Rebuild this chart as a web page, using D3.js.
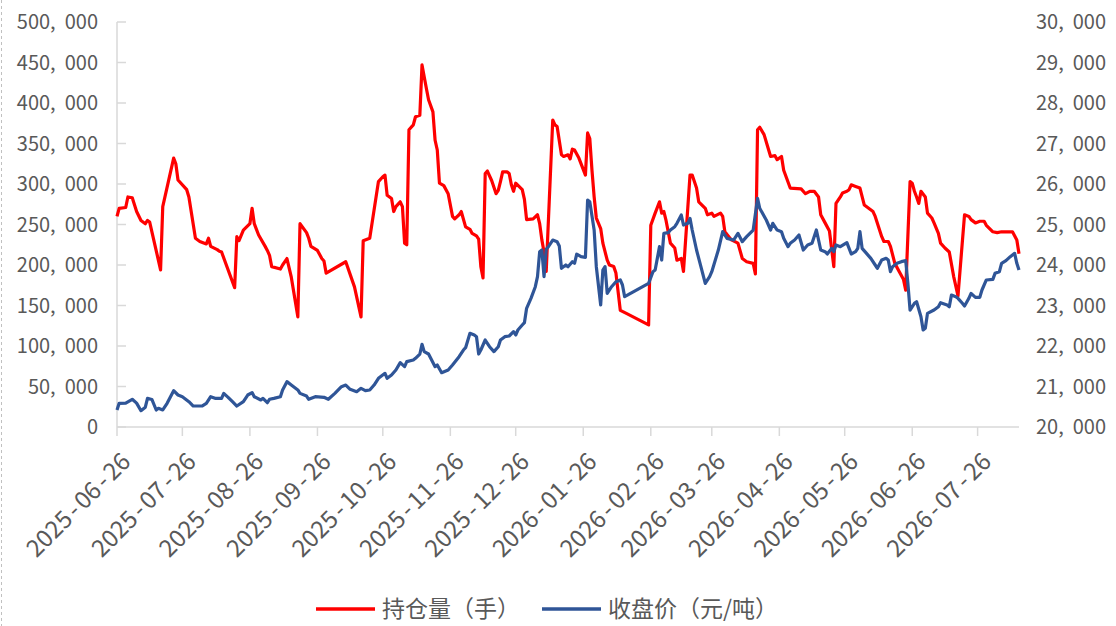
<!DOCTYPE html>
<html>
<head>
<meta charset="utf-8">
<script src="https://cdn.jsdelivr.net/npm/d3@7"></script>
<style>
	html, body { margin: 0; padding: 0; background: #fff; }
	svg { display: block; }
	text { font-family: "Noto Sans CJK SC", "Noto Sans", sans-serif; }
</style>
</head>
<body>
<svg id="chart" width="1116" height="626"></svg>
<script>
// series names (legend)
var seriesNames = ["持仓量（手）", "收盘价（元/吨）"];

// 持仓量 - open interest, left axis
var openInterest = [
	["2025-06-26",260000],["2025-06-27",270000],["2025-06-30",271000],["2025-07-01",284000],
	["2025-07-03",283000],["2025-07-05",266000],["2025-07-07",255000],["2025-07-09",251000],
	["2025-07-10",255000],["2025-07-11",253000],["2025-07-16",194000],["2025-07-17",272000],
	["2025-07-22",332000],["2025-07-23",325000],["2025-07-24",305000],["2025-07-28",293000],
	["2025-07-29",284000],["2025-08-01",233000],["2025-08-03",229000],["2025-08-06",226000],
	["2025-08-07",233000],["2025-08-08",223000],["2025-08-11",219000],["2025-08-12",217000],
	["2025-08-13",216000],["2025-08-19",172000],["2025-08-20",235000],["2025-08-21",230000],
	["2025-08-23",243000],["2025-08-26",251000],["2025-08-27",270000],["2025-08-28",251000],
	["2025-08-30",237000],["2025-09-02",223000],["2025-09-03",218000],["2025-09-04",212000],
	["2025-09-05",198000],["2025-09-09",195000],["2025-09-10",200000],["2025-09-12",208000],
	["2025-09-14",185000],["2025-09-17",136000],["2025-09-18",251000],["2025-09-21",240000],
	["2025-09-22",233000],["2025-09-23",223000],["2025-09-26",218000],["2025-09-28",208000],
	["2025-09-29",205000],["2025-09-30",190000],["2025-10-09",204000],["2025-10-13",173000],
	["2025-10-16",136000],["2025-10-17",230000],["2025-10-20",233000],["2025-10-24",303000],
	["2025-10-26",309000],["2025-10-27",311000],["2025-10-28",286000],["2025-10-30",282000],
	["2025-10-31",266000],["2025-11-01",272000],["2025-11-03",278000],["2025-11-04",272000],
	["2025-11-05",227000],["2025-11-06",225000],["2025-11-07",367000],["2025-11-09",373000],
	["2025-11-10",383000],["2025-11-12",385000],["2025-11-13",447000],["2025-11-15",418000],
	["2025-11-16",404000],["2025-11-18",389000],["2025-11-19",354000],["2025-11-20",342000],
	["2025-11-21",301000],["2025-11-23",298000],["2025-11-25",288000],["2025-11-27",260000],
	["2025-11-28",257000],["2025-11-30",262000],["2025-12-01",266000],["2025-12-03",247000],
	["2025-12-05",244000],["2025-12-06",239000],["2025-12-08",236000],["2025-12-09",232000],
	["2025-12-10",198000],["2025-12-11",184000],["2025-12-12",313000],["2025-12-13",316000],
	["2025-12-15",304000],["2025-12-17",288000],["2025-12-18",292000],["2025-12-19",303000],
	["2025-12-20",315000],["2025-12-22",315000],["2025-12-23",313000],["2025-12-24",299000],
	["2025-12-25",291000],["2025-12-26",301000],["2025-12-29",293000],["2025-12-30",281000],
	["2025-12-31",256000],["2026-01-03",257000],["2026-01-05",262000],["2026-01-06",251000],
	["2026-01-07",231000],["2026-01-08",216000],["2026-01-09",192000],["2026-01-12",379000],
	["2026-01-13",373000],["2026-01-14",371000],["2026-01-16",336000],["2026-01-17",334000],
	["2026-01-19",336000],["2026-01-20",331000],["2026-01-21",343000],["2026-01-22",342000],
	["2026-01-24",332000],["2026-01-27",311000],["2026-01-28",363000],["2026-01-29",356000],
	["2026-01-30",317000],["2026-01-31",284000],["2026-02-01",258000],["2026-02-03",245000],
	["2026-02-04",227000],["2026-02-06",206000],["2026-02-07",200000],["2026-02-09",198000],
	["2026-02-10",190000],["2026-02-12",144000],["2026-02-15",140000],["2026-02-25",126000],
	["2026-02-26",249000],["2026-02-28",264000],["2026-03-02",278000],["2026-03-03",264000],
	["2026-03-04",266000],["2026-03-05",255000],["2026-03-07",227000],["2026-03-09",221000],
	["2026-03-10",206000],["2026-03-12",208000],["2026-03-13",192000],["2026-03-16",311000],
	["2026-03-17",311000],["2026-03-19",295000],["2026-03-20",278000],["2026-03-23",270000],
	["2026-03-24",262000],["2026-03-26",264000],["2026-03-27",260000],["2026-03-30",264000],
	["2026-03-31",260000],["2026-04-01",241000],["2026-04-04",231000],["2026-04-07",227000],
	["2026-04-09",208000],["2026-04-11",204000],["2026-04-14",202000],["2026-04-15",189000],
	["2026-04-16",367000],["2026-04-17",370000],["2026-04-19",361000],["2026-04-21",343000],
	["2026-04-22",334000],["2026-04-24",335000],["2026-04-25",330000],["2026-04-26",332000],
	["2026-04-27",334000],["2026-04-28",317000],["2026-05-01",295000],["2026-05-06",294000],
	["2026-05-08",288000],["2026-05-10",291000],["2026-05-12",291000],["2026-05-14",284000],
	["2026-05-15",262000],["2026-05-17",252000],["2026-05-19",242000],["2026-05-21",198000],
	["2026-05-22",276000],["2026-05-24",284000],["2026-05-25",289000],["2026-05-27",291000],
	["2026-05-28",293000],["2026-05-29",299000],["2026-05-31",297000],["2026-06-02",295000],
	["2026-06-04",274000],["2026-06-06",270000],["2026-06-08",266000],["2026-06-09",260000],
	["2026-06-12",235000],["2026-06-13",229000],["2026-06-15",229000],["2026-06-16",223000],
	["2026-06-18",202000],["2026-06-20",192000],["2026-06-22",182000],["2026-06-23",169000],
	["2026-06-25",303000],["2026-06-26",301000],["2026-06-27",291000],["2026-06-28",284000],
	["2026-06-29",276000],["2026-06-30",291000],["2026-07-02",284000],["2026-07-03",264000],
	["2026-07-05",258000],["2026-07-06",252000],["2026-07-08",239000],["2026-07-09",227000],
	["2026-07-11",221000],["2026-07-13",216000],["2026-07-15",186000],["2026-07-17",162000],
	["2026-07-20",262000],["2026-07-22",260000],["2026-07-23",256000],["2026-07-25",252000],
	["2026-07-27",254000],["2026-07-29",254000],["2026-07-30",249000],["2026-08-02",241000],
	["2026-08-04",240000],["2026-08-06",241000],["2026-08-09",241000],["2026-08-11",241000],
	["2026-08-13",231000],["2026-08-14",214000]
];

// 收盘价 - close price, right axis
var closePrice = [
	["2025-06-26",20420],["2025-06-27",20585],["2025-06-30",20590],["2025-07-03",20684],
	["2025-07-05",20590],["2025-07-07",20403],["2025-07-09",20490],["2025-07-10",20707],
	["2025-07-12",20680],["2025-07-14",20420],["2025-07-15",20461],["2025-07-17",20420],
	["2025-07-19",20585],["2025-07-22",20897],["2025-07-24",20790],["2025-07-26",20748],
	["2025-07-29",20625],["2025-07-31",20518],["2025-08-04",20518],["2025-08-06",20585],
	["2025-08-08",20748],["2025-08-10",20707],["2025-08-13",20707],["2025-08-14",20830],
	["2025-08-16",20733],["2025-08-18",20625],["2025-08-20",20518],["2025-08-23",20625],
	["2025-08-25",20790],["2025-08-27",20850],["2025-08-28",20748],["2025-08-31",20667],
	["2025-09-01",20707],["2025-09-03",20600],["2025-09-04",20684],["2025-09-06",20707],
	["2025-09-09",20748],["2025-09-10",20914],["2025-09-12",21120],["2025-09-14",21037],
	["2025-09-17",20914],["2025-09-18",20830],["2025-09-21",20765],["2025-09-22",20684],
	["2025-09-25",20748],["2025-09-29",20733],["2025-10-01",20684],["2025-10-04",20831],
	["2025-10-07",20996],["2025-10-09",21035],["2025-10-11",20930],["2025-10-14",20872],
	["2025-10-16",20955],["2025-10-18",20897],["2025-10-20",20914],["2025-10-22",21037],
	["2025-10-24",21202],["2025-10-27",21325],["2025-10-28",21202],["2025-10-30",21284],
	["2025-11-01",21407],["2025-11-03",21588],["2025-11-05",21490],["2025-11-06",21613],
	["2025-11-09",21654],["2025-11-10",21696],["2025-11-12",21802],["2025-11-13",22042],
	["2025-11-14",21860],["2025-11-16",21802],["2025-11-17",21696],["2025-11-19",21490],
	["2025-11-20",21531],["2025-11-22",21341],["2025-11-25",21407],["2025-11-27",21531],
	["2025-11-30",21736],["2025-12-02",21901],["2025-12-03",21958],["2025-12-05",22313],
	["2025-12-07",22272],["2025-12-08",22230],["2025-12-09",21802],["2025-12-10",21901],
	["2025-12-12",22148],["2025-12-14",21983],["2025-12-16",21860],["2025-12-18",21983],
	["2025-12-19",22148],["2025-12-21",22230],["2025-12-23",22247],["2025-12-25",22354],
	["2025-12-26",22272],["2025-12-27",22395],["2025-12-29",22518],["2025-12-30",22576],
	["2025-12-31",22930],["2026-01-02",23177],["2026-01-04",23464],["2026-01-05",23711],
	["2026-01-06",24328],["2026-01-07",24370],["2026-01-08",23711],["2026-01-09",24387],
	["2026-01-10",24453],["2026-01-12",24617],["2026-01-14",24576],["2026-01-15",24470],
	["2026-01-16",23918],["2026-01-18",24000],["2026-01-19",23958],["2026-01-21",24082],
	["2026-01-22",24041],["2026-01-23",24267],["2026-01-25",24205],["2026-01-27",24190],
	["2026-01-28",25605],["2026-01-29",25564],["2026-01-31",24864],["2026-02-01",23958],
	["2026-02-03",23012],["2026-02-04",23876],["2026-02-05",23958],["2026-02-06",23300],
	["2026-02-08",23464],["2026-02-10",23588],["2026-02-12",23630],["2026-02-13",23506],
	["2026-02-14",23218],["2026-02-25",23547],["2026-02-27",23835],["2026-02-28",23876],
	["2026-03-01",24164],["2026-03-02",24453],["2026-03-03",24123],["2026-03-04",24782],
	["2026-03-06",24798],["2026-03-07",24864],["2026-03-09",24946],["2026-03-10",25029],
	["2026-03-12",25234],["2026-03-13",24987],["2026-03-15",25029],["2026-03-16",25152],
	["2026-03-17",24864],["2026-03-19",24370],["2026-03-21",23958],["2026-03-23",23547],
	["2026-03-25",23712],["2026-03-26",23835],["2026-03-29",24370],["2026-03-31",24823],
	["2026-04-02",24658],["2026-04-05",24617],["2026-04-07",24782],["2026-04-09",24576],
	["2026-04-11",24700],["2026-04-14",24864],["2026-04-16",25646],["2026-04-17",25399],
	["2026-04-20",25111],["2026-04-22",24864],["2026-04-23",25029],["2026-04-25",24864],
	["2026-04-27",24823],["2026-04-28",24658],["2026-04-30",24453],["2026-05-01",24535],
	["2026-05-03",24617],["2026-05-05",24741],["2026-05-07",24370],["2026-05-09",24494],
	["2026-05-11",24535],["2026-05-13",24864],["2026-05-15",24370],["2026-05-17",24329],
	["2026-05-18",24271],["2026-05-20",24411],["2026-05-21",24329],["2026-05-22",24494],
	["2026-05-24",24453],["2026-05-27",24552],["2026-05-29",24271],["2026-05-31",24329],
	["2026-06-01",24411],["2026-06-02",24823],["2026-06-03",24411],["2026-06-05",24288],
	["2026-06-07",24164],["2026-06-09",24000],["2026-06-10",23918],["2026-06-12",24123],
	["2026-06-14",24164],["2026-06-15",24123],["2026-06-16",23835],["2026-06-17",23958],
	["2026-06-19",24041],["2026-06-21",24082],["2026-06-23",24107],["2026-06-24",23547],
	["2026-06-25",22888],["2026-06-27",23053],["2026-06-28",23094],["2026-06-30",22723],
	["2026-07-01",22395],["2026-07-02",22437],["2026-07-03",22806],["2026-07-06",22888],
	["2026-07-08",22970],["2026-07-09",23069],["2026-07-12",23012],["2026-07-13",22970],
	["2026-07-14",23259],["2026-07-16",23218],["2026-07-17",23177],["2026-07-19",23054],
	["2026-07-20",22987],["2026-07-22",23177],["2026-07-23",23300],["2026-07-25",23201],
	["2026-07-27",23201],["2026-07-28",23383],["2026-07-30",23630],["2026-08-02",23646],
	["2026-08-03",23794],["2026-08-05",23835],["2026-08-06",24041],["2026-08-08",24107],
	["2026-08-10",24206],["2026-08-12",24288],["2026-08-13",24041],["2026-08-14",23876]
];

// axis ticks
var leftTicks = [0, 50000, 100000, 150000, 200000, 250000, 300000, 350000, 400000, 450000, 500000];
var rightTicks = [20000, 21000, 22000, 23000, 24000, 25000, 26000, 27000, 28000, 29000, 30000];
var xTickLabels = ["2025-06-26","2025-07-26","2025-08-26","2025-09-26","2025-10-26","2025-11-26",
	"2025-12-26","2026-01-26","2026-02-26","2026-03-26","2026-04-26","2026-05-26","2026-06-26","2026-07-26"];

var colors = ["#ff0000", "#2f5597"],
	axisColor = "#d9d9d9",
	labelColor = "#595959";

var margin = {left: 117, right: 97, top: 22, bottom: 199},
	width = 1116, height = 626;

var parse = d3.timeParse("%Y-%m-%d"),
	fmt = d3.format(",");

var svg = d3.select("#chart");

// dashed border on the far left (edge of the original chart box)
svg.append("line")
	.attr("x1", 1.5).attr("x2", 1.5)
	.attr("y1", 0).attr("y2", height)
	.attr("stroke", "#c0c0c0")
	.attr("stroke-dasharray", "3,3");

var xScale = d3.scaleTime()
	.domain([parse(openInterest[0][0]), parse(openInterest[openInterest.length - 1][0])])
	.range([margin.left, width - margin.right]);

var yLeft = d3.scaleLinear()
	.domain([0, 500000])
	.range([height - margin.bottom, margin.top]);

var yRight = d3.scaleLinear()
	.domain([20000, 30000])
	.range([height - margin.bottom, margin.top]);

// split label at the comma so the gap after it looks like the original (wide comma)
function commaLabel(sel, v) {
	var s = fmt(v), i = s.indexOf(",");
	if (i < 0) { sel.text(s); return; }
	sel.append("tspan").text(s.slice(0, i + 1));
	sel.append("tspan").attr("dx", 9).text(s.slice(i + 1));
}

// date label with a bit of room round the dashes
function dateLabel(sel, s) {
	var parts = s.split("-");
	parts.forEach(function(p, i) {
		if (i > 0) sel.append("tspan").attr("dx", 3).text("-");
		sel.append("tspan").attr("dx", i > 0 ? 3 : 0).text(p);
	});
}

//************ LEFT AXIS ************
var gl = svg.append("g").attr("class", "axis-left");
gl.append("line")
	.attr("x1", margin.left).attr("x2", margin.left)
	.attr("y1", yLeft(500000)).attr("y2", yLeft(0))
	.attr("stroke", axisColor).attr("stroke-width", 1.5);
gl.selectAll("line.tick").data(leftTicks).enter().append("line")
	.attr("class", "tick")
	.attr("x1", margin.left).attr("x2", margin.left + 9)
	.attr("y1", function(d) { return yLeft(d); })
	.attr("y2", function(d) { return yLeft(d); })
	.attr("stroke", axisColor).attr("stroke-width", 1.5);
gl.selectAll("text").data(leftTicks).enter().append("text")
	.attr("x", 98)
	.attr("y", function(d) { return yLeft(d); })
	.attr("dy", "0.36em")
	.attr("text-anchor", "end")
	.attr("font-size", 20)
	.attr("fill", labelColor)
	.each(function(d) { commaLabel(d3.select(this), d); });

//************ RIGHT AXIS (labels only) ************
var gr = svg.append("g").attr("class", "axis-right");
gr.selectAll("text").data(rightTicks).enter().append("text")
	.attr("x", 1036)
	.attr("y", function(d) { return yRight(d); })
	.attr("dy", "0.36em")
	.attr("text-anchor", "start")
	.attr("font-size", 20)
	.attr("fill", labelColor)
	.each(function(d) { commaLabel(d3.select(this), d); });

//************ X AXIS ************
var gx = svg.append("g").attr("class", "axis-x");
var baseY = yLeft(0);
gx.append("line")
	.attr("x1", margin.left).attr("x2", width - margin.right)
	.attr("y1", baseY).attr("y2", baseY)
	.attr("stroke", axisColor).attr("stroke-width", 1.5);
gx.selectAll("line.tick").data(xTickLabels).enter().append("line")
	.attr("class", "tick")
	.attr("x1", function(d) { return xScale(parse(d)); })
	.attr("x2", function(d) { return xScale(parse(d)); })
	.attr("y1", baseY).attr("y2", baseY + 9)
	.attr("stroke", axisColor).attr("stroke-width", 1.5);
gx.selectAll("text").data(xTickLabels).enter().append("text")
	.attr("transform", function(d) {
		return "translate(" + (xScale(parse(d)) + 15) + "," + (baseY + 36) + ") rotate(-45)";
	})
	.attr("text-anchor", "end")
	.attr("font-size", 24)
	.attr("fill", labelColor)
	.each(function(d) { dateLabel(d3.select(this), d); });

//************ LINES ************
var lineLeft = d3.line()
	.x(function(d) { return xScale(parse(d[0])); })
	.y(function(d) { return yLeft(d[1]); });
var lineRight = d3.line()
	.x(function(d) { return xScale(parse(d[0])); })
	.y(function(d) { return yRight(d[1]); });

svg.append("path")
	.datum(openInterest)
	.attr("d", lineLeft)
	.attr("fill", "none")
	.attr("stroke", colors[0])
	.attr("stroke-width", 3.2)
	.attr("stroke-linejoin", "round");

svg.append("path")
	.datum(closePrice)
	.attr("d", lineRight)
	.attr("fill", "none")
	.attr("stroke", colors[1])
	.attr("stroke-width", 3.2)
	.attr("stroke-linejoin", "round");

//************ LEGEND ************
var legendX = [316, 542], legendY = 609;
var lg = svg.append("g").attr("class", "legend");
seriesNames.forEach(function(name, i) {
	lg.append("line")
		.attr("x1", legendX[i]).attr("x2", legendX[i] + 59)
		.attr("y1", legendY).attr("y2", legendY)
		.attr("stroke", colors[i]).attr("stroke-width", 3.5);
	lg.append("text")
		.attr("x", legendX[i] + 66)
		.attr("y", legendY)
		.attr("dy", "0.36em")
		.attr("font-size", 23)
		.attr("fill", labelColor)
		.text(name);
});
</script>
</body>
</html>
